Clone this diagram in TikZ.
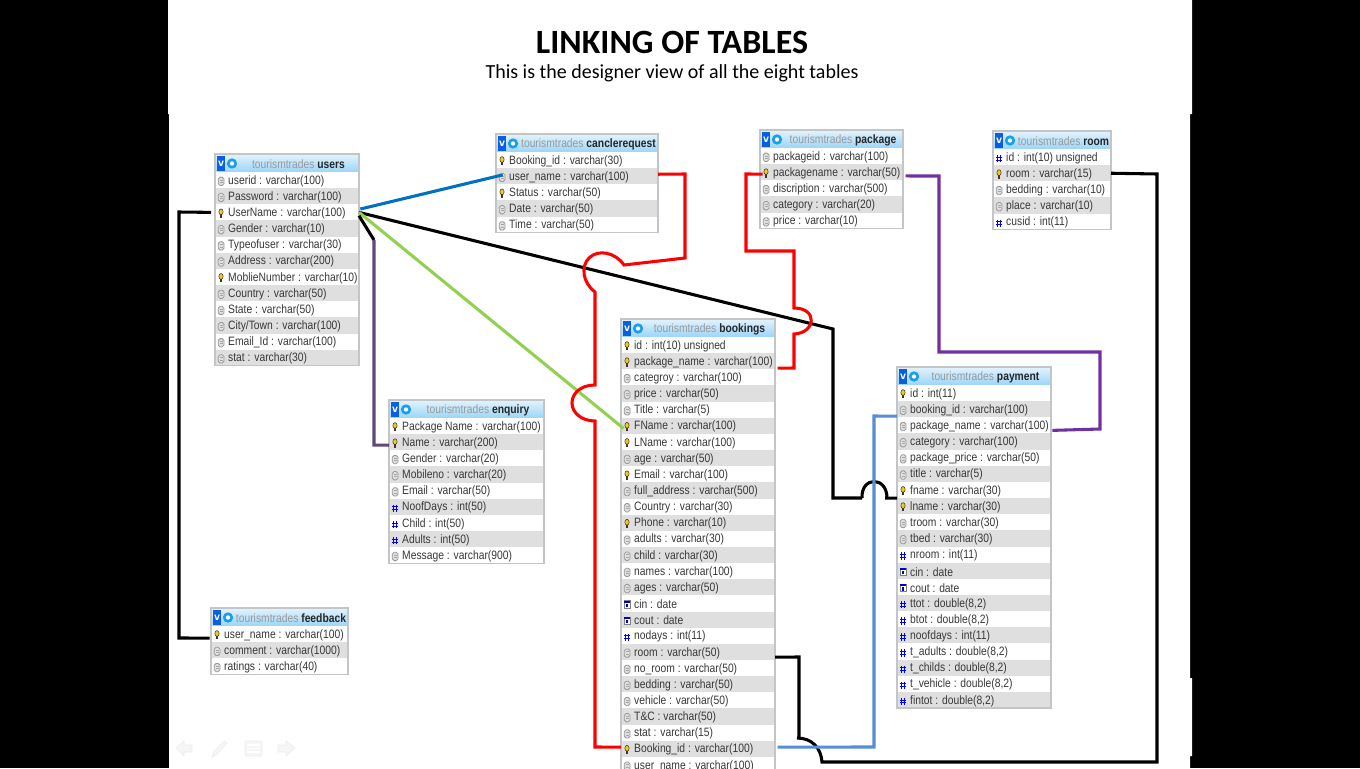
\documentclass[tikz,border=0pt]{standalone}
\usepackage{fontspec}
\setmainfont{Carlito}
\newfontfamily\rowfont[FakeStretch=0.85]{Liberation Sans}
\usetikzlibrary{calc}

\definecolor{rowgrey}{HTML}{DFDFDF}
\definecolor{frameline}{HTML}{C2C6C8}
\definecolor{headtop}{HTML}{E4F3FD}
\definecolor{headbot}{HTML}{9BD5F8}
\definecolor{vblue}{HTML}{0A5FE0}
\definecolor{gearblue}{HTML}{1C9FEA}
\definecolor{linkblue}{HTML}{0070C0}
\definecolor{linklight}{HTML}{558ED5}
\definecolor{linkgreen}{HTML}{92D050}
\definecolor{linkplum}{HTML}{5F497A}
\definecolor{linkviolet}{HTML}{7030A0}
\definecolor{navgrey}{HTML}{F6F6F6}

\tikzset{
  dbhead/.style={anchor=north west, inner sep=0pt, outer sep=0pt, draw=none, top color=headtop, bottom color=headbot},
  dbrow/.style={anchor=north west, inner sep=0pt, outer sep=0pt, minimum height=12.11pt},
  dbtext/.style={anchor=west, inner sep=0pt, font=\rowfont\fontsize{9.1}{10}\selectfont, text=black!78},
  dbname/.style={inner sep=0pt, font=\rowfont\fontsize{9.1}{10}\selectfont, text=black!40},
  dbframe/.style={draw=frameline, line width=0.85pt},
  link/.style={line width=2.3pt, miter limit=4},
  navicon/.style={fill=navgrey, draw=black!7, line width=0.5pt},
}

% row icons, #1 = row node
\newcommand{\iconkey}[1]{%
  \fill [yellow!60!brown, draw=black!60!brown, line width=0.4pt] ([xshift=4.5pt,yshift=0.4pt]#1.west) ellipse (1.6pt and 2.2pt);
  \draw [black!60!brown, line width=0.8pt] ([xshift=4.5pt,yshift=-1.4pt]#1.west) -- ([xshift=4.5pt,yshift=-4pt]#1.west);}
\newcommand{\icontxt}[1]{%
  \draw [black!40, fill=black!12, line width=0.6pt, rounded corners=1.4pt] ([xshift=2.4pt,yshift=2.2pt]#1.west) rectangle ([xshift=6.8pt,yshift=-4pt]#1.west);
  \draw [black!35, line width=0.4pt] ([xshift=3.4pt,yshift=0.2pt]#1.west) -- ([xshift=5.8pt,yshift=0.2pt]#1.west)
    ([xshift=3.4pt,yshift=-1.6pt]#1.west) -- ([xshift=5.8pt,yshift=-1.6pt]#1.west);}
\newcommand{\iconnum}[1]{%
  \draw [blue, line width=0.6pt]
    ([xshift=3.6pt,yshift=1.6pt]#1.west) -- ([xshift=3.6pt,yshift=-4pt]#1.west)
    ([xshift=5.6pt,yshift=1.6pt]#1.west) -- ([xshift=5.6pt,yshift=-4pt]#1.west)
    ([xshift=2.4pt,yshift=0pt]#1.west) -- ([xshift=6.8pt,yshift=0pt]#1.west)
    ([xshift=2.4pt,yshift=-2.2pt]#1.west) -- ([xshift=6.8pt,yshift=-2.2pt]#1.west);}
\newcommand{\icondate}[1]{%
  \draw [black!50, fill=white, line width=0.5pt] ([xshift=2.4pt,yshift=2pt]#1.west) rectangle ([xshift=6.8pt,yshift=-3.6pt]#1.west);
  \fill [blue!80!black] ([xshift=2.4pt,yshift=2pt]#1.west) rectangle ([xshift=6.8pt,yshift=0.6pt]#1.west);
  \fill [blue!80!black] ([xshift=4pt,yshift=-0.4pt]#1.west) rectangle ([xshift=5.2pt,yshift=-2.8pt]#1.west);}

% one table: id, x, top, width, name, rows
\newcommand{\dbtable}[6]{%
  \node [dbhead, minimum width=#4*0.75pt, minimum height=13.5pt] (#1) at (#2,#3) {};
  \node [fill=vblue, text=white, inner sep=0pt, minimum width=6.4pt, minimum height=11.6pt, font=\sffamily\bfseries\small] (#1-v) at (#2+6,#3+9.5) {v};
  \fill [gearblue] (#2+17,#3+9.5) circle (3.9pt);
  \fill [white] (#2+17,#3+9.5) circle (1.6pt);
  \node [dbname] (#1-name) at (#2+#4/2+11.5,#3+10) {tourismtrades \textbf{\textcolor{black!85}{#5}}};
  \foreach \kind/\txt [count=\n] in {#6} {
    \pgfmathsetmacro{\rowy}{#3+18+(\n-1)*16.15}
    \ifodd\n \def\rowfill{white}\else \def\rowfill{rowgrey}\fi
    \node [dbrow, fill=\rowfill, minimum width=#4*0.75pt] (#1-\n) at (#2,\rowy) {};
    \node [dbtext] (#1-\n-t) at ([xshift=9.7pt,yshift=-0.7pt]#1-\n.west) {\txt};
    \csname icon\kind\endcsname{#1-\n}
    \xdef\lastrow{\n}
  }
  \draw [dbframe] (#1.north west) rectangle (#1-\lastrow.south east);
}

\begin{document}
\begin{tikzpicture}[x=0.75pt,y=-0.75pt]
  \path [use as bounding box, clip] (0,0) rectangle (1360,768);
%  \draw [help lines] (0,0) grid [step=100] (1360,768);
  \fill [black] (0,0) rectangle (1360,768);
  \fill [white] (168,0) -- (1192,0) -- (1192,114) -- (1190,114) -- (1190,678) -- (1192,678) -- (1192,756) -- (1190,756) -- (1190,768) -- (169,768) -- (169,114) -- (168,114) -- cycle;

  \node [font=\fontsize{25.5}{28}\selectfont\bfseries] (title) at (672,42) {LINKING OF TABLES};
  \node [font=\fontsize{15}{17}\selectfont] (subtitle) at (672,73.5) {This is the designer view of all the eight tables};

  \dbtable{users}{215}{154}{144}{users}{txt/{userid : varchar(100)}, txt/{Password : varchar(100)}, key/{UserName : varchar(100)}, txt/{Gender : varchar(10)}, txt/{Typeofuser : varchar(30)}, txt/{Address : varchar(200)}, key/{MoblieNumber : varchar(10)}, txt/{Country : varchar(50)}, txt/{State : varchar(50)}, txt/{City/Town : varchar(100)}, txt/{Email\_Id : varchar(100)}, txt/{stat : varchar(30)}}
  \dbtable{cancel}{496}{134}{162}{canclerequest}{key/{Booking\_id : varchar(30)}, txt/{user\_name : varchar(100)}, key/{Status : varchar(50)}, txt/{Date : varchar(50)}, txt/{Time : varchar(50)}}
  \dbtable{package}{760}{130}{143}{package}{txt/{packageid : varchar(100)}, key/{packagename : varchar(50)}, txt/{discription : varchar(500)}, txt/{category : varchar(20)}, txt/{price : varchar(10)}}
  \dbtable{room}{993}{131}{118}{room}{num/{id : int(10) unsigned}, key/{room : varchar(15)}, txt/{bedding : varchar(10)}, txt/{place : varchar(10)}, num/{cusid : int(11)}}
  \dbtable{enquiry}{389}{400}{155}{enquiry}{key/{Package Name : varchar(100)}, key/{Name : varchar(200)}, txt/{Gender : varchar(20)}, txt/{Mobileno : varchar(20)}, txt/{Email : varchar(50)}, num/{NoofDays : int(50)}, num/{Child : int(50)}, num/{Adults : int(50)}, txt/{Message : varchar(900)}}
  \dbtable{feedback}{211}{608}{137}{feedback}{key/{user\_name : varchar(100)}, txt/{comment : varchar(1000)}, txt/{ratings : varchar(40)}}
  \dbtable{bookings}{621}{319}{154}{bookings}{key/{id : int(10) unsigned}, key/{package\_name : varchar(100)}, txt/{categroy : varchar(100)}, txt/{price : varchar(50)}, txt/{Title : varchar(5)}, key/{FName : varchar(100)}, key/{LName : varchar(100)}, txt/{age : varchar(50)}, key/{Email : varchar(100)}, txt/{full\_address : varchar(500)}, txt/{Country : varchar(30)}, key/{Phone : varchar(10)}, txt/{adults : varchar(30)}, txt/{child : varchar(30)}, txt/{names : varchar(100)}, txt/{ages : varchar(50)}, date/{cin : date}, date/{cout : date}, num/{nodays : int(11)}, txt/{room : varchar(50)}, txt/{no\_room : varchar(50)}, txt/{bedding : varchar(50)}, txt/{vehicle : varchar(50)}, txt/{T\&C : varchar(50)}, txt/{stat : varchar(15)}, key/{Booking\_id : varchar(100)}, txt/{user\_name : varchar(100)}}
  \dbtable{payment}{897}{367}{154}{payment}{key/{id : int(11)}, txt/{booking\_id : varchar(100)}, txt/{package\_name : varchar(100)}, txt/{category : varchar(100)}, txt/{package\_price : varchar(50)}, txt/{title : varchar(5)}, key/{fname : varchar(30)}, key/{lname : varchar(30)}, txt/{troom : varchar(30)}, txt/{tbed : varchar(30)}, num/{nroom : int(11)}, date/{cin : date}, date/{cout : date}, num/{ttot : double(8,2)}, num/{btot : double(8,2)}, num/{noofdays : int(11)}, num/{t\_adults : double(8,2)}, num/{t\_childs : double(8,2)}, num/{t\_vehicle : double(8,2)}, num/{fintot : double(8,2)}}

  % links out of users
  \draw [link, black] ([xshift=-3pt]users-3.west) -- (179,212) -- (179,638) -- ([xshift=-1pt,yshift=-3pt]feedback-1.west);
  \draw [link, linkblue] ([xshift=1pt,yshift=2.5pt]users-3.east) -- ([xshift=5pt,yshift=1pt]cancel-2.west);
  \draw [link, black] (users-3.east) -- (833,329) -- (833,498) -- (862,498);
  \draw [link, black] (862,498) .. controls (861,476) and (887,476) .. (887,498);
  \draw [link, black] (885,498) -- ([yshift=6pt]payment-8.west);
  \draw [link, linkgreen] (users-3.east) -- ([xshift=2pt,yshift=-2pt]bookings-6.west);
  \draw [link, black] ([yshift=-2.5pt]users-3.east) -- (374,240);
  \draw [link, linkplum] (374,240) -- (374,445) -- ([yshift=-2.25pt]enquiry-2.west);

  % red links
  \draw [link, red] ([yshift=1.5pt]cancel-2.east) -- (685,174) -- (685,258) -- (624,265)
    .. controls (615,252) and (598,249) .. (589,258)
    .. controls (581,266) and (582,282) .. (595,292)
    -- (595,385) .. controls (580,385) and (572,394) .. (572,403)
    .. controls (572,413) and (582,421) .. (595,421)
    -- (595,747) -- ([yshift=1.3pt]bookings-26.west);
  \draw [link, red] ([xshift=2pt,yshift=-1.4pt]package-2.west) -- (746,174) -- (746,251) -- (794,251) -- (794,308)
    .. controls (818,308) and (816,333) .. (794,334)
    -- (794,368) -- ([xshift=2pt,yshift=-5.2pt]bookings-2.east);

  \draw [link, linkviolet] ([xshift=2pt,yshift=-2.8pt]package-2.east) -- (939,176) -- (939,352) -- (1100,352) -- (1100,429) -- ([xshift=1pt,yshift=-3.75pt]payment-3.east);

  % room down to bookings
  \draw [link, black] (room-2.east) -- (1157,174) -- (1157,762) -- (822,762)
    .. controls (821,748) and (812,738) .. (797,738);
  \draw [link, black] (799,738) -- (799,657) -- ([yshift=-3.9pt]bookings-20.east);

  \draw [link, linklight] ([xshift=2pt,yshift=1.3pt]bookings-26.east) -- (874,747) -- (874,416) -- ([yshift=-5.2pt]payment-2.west);

  % slide controls, barely visible
  \draw [navicon] (176,748) -- (184,741) -- (184,745) -- (192,745) -- (192,752) -- (184,752) -- (184,756) -- cycle;
  \draw [navicon] (212,757) -- (214,751) -- (224,741) -- (227,743) -- (217,754) -- cycle;
  \draw [navicon, rounded corners=1pt] (245,741) rectangle (262,756);
  \draw [white, line width=0.8pt] (247,745) -- (260,745) (247,748.5) -- (260,748.5) (247,752) -- (260,752);
  \draw [navicon] (278,745) -- (286,745) -- (286,741) -- (295,748) -- (286,756) -- (286,752) -- (278,752) -- cycle;
\end{tikzpicture}
\end{document}
